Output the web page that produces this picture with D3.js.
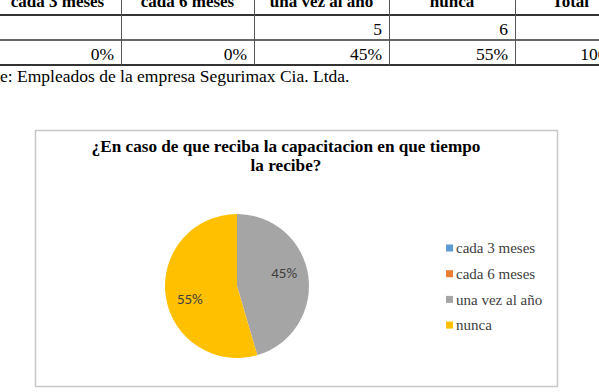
<!DOCTYPE html>
<html>
<head>
<meta charset="utf-8">
<script src="https://cdn.jsdelivr.net/npm/d3@7"></script>
<style>
  body { margin: 0; background: #fff; }
  svg { display: block; }
</style>
</head>
<body>
<div id="chart"></div>
<script>
// Data
const categories = ["cada 3 meses", "cada 6 meses", "una vez al año", "nunca"];
const counts = [0, 0, 5, 6];
const percentLabels = ["0%", "0%", "45%", "55%"];
const totalHeader = "Total";
const totalPercent = "100%";
const chartTitle = ["¿En caso de que reciba la capacitacion en que tiempo", "la recibe?"];
const sourceText = "e: Empleados de la empresa Segurimax Cia. Ltda.";
const colors = ["#5B9BD5", "#ED7D31", "#A5A5A5", "#FFC000"];

const W = 599, H = 392;
const svg = d3.select("#chart").append("svg")
    .attr("width", W)
    .attr("height", H);

// --- table fragment at the top (cut off by the page edge) ---
const colEdges = [-6, 121, 254, 389, 515, 626];
const headers = categories.concat([totalHeader]);
const countCells = counts.map(d => d === 0 ? "" : String(d)).concat([""]);
const pctCells = percentLabels.concat([totalPercent]);
const serif = "Liberation Serif, Times New Roman, serif";

const table = svg.append("g").attr("font-family", serif);

table.selectAll("text.hdr")
    .data(headers)
    .join("text")
    .attr("class", "hdr")
    .attr("x", (d, i) => (colEdges[i] + colEdges[i + 1]) / 2)
    .attr("y", 7)
    .attr("text-anchor", "middle")
    .attr("font-weight", "bold")
    .attr("font-size", 17)
    .attr("fill", "#000")
    .text(d => d);

[[countCells, 35], [pctCells, 60]].forEach(([row, y]) => {
    table.append("g").selectAll("text")
        .data(row)
        .join("text")
        .attr("x", (d, i) => i === 4 ? 621 : colEdges[i + 1] - 7)
        .attr("y", y)
        .attr("text-anchor", "end")
        .attr("font-size", 17.5)
        .attr("fill", "#000")
        .text(d => d);
});

[15, 40, 65].forEach((y, i) => {
    table.append("line")
        .attr("x1", 0).attr("x2", W)
        .attr("y1", y).attr("y2", y)
        .attr("stroke", "#333")
        .attr("stroke-width", i === 1 ? 1.5 : 2);
});
colEdges.slice(1, 5).forEach(x => {
    table.append("line")
        .attr("x1", x + 0.5).attr("x2", x + 0.5)
        .attr("y1", 0).attr("y2", 65)
        .attr("stroke", "#555")
        .attr("stroke-width", 1);
});

table.append("text")
    .attr("x", 0)
    .attr("y", 82)
    .attr("font-size", 17.5)
    .attr("fill", "#000")
    .text(sourceText);

// --- chart box ---
svg.append("rect")
    .attr("x", 35.5).attr("y", 130.5)
    .attr("width", 522).attr("height", 256)
    .attr("fill", "#fff")
    .attr("stroke", "#c8c8c8")
    .attr("stroke-width", 1.5);

svg.append("g").selectAll("text")
    .data(chartTitle)
    .join("text")
    .attr("x", 286)
    .attr("y", (d, i) => 152 + i * 18.5)
    .attr("text-anchor", "middle")
    .attr("font-family", serif)
    .attr("font-weight", "bold")
    .attr("font-size", 17.2)
    .attr("fill", "#000")
    .text(d => d);

// --- pie ---
const cx = 237, cy = 286, r = 72;
const pie = d3.pie().sort(null).value(d => d.value);
const arcs = pie(categories.map((c, i) => ({ name: c, value: counts[i], color: colors[i], pct: percentLabels[i] })));
const arc = d3.arc().innerRadius(0).outerRadius(r);

const pg = svg.append("g").attr("transform", `translate(${cx},${cy})`);
pg.selectAll("path")
    .data(arcs)
    .join("path")
    .attr("d", arc)
    .attr("fill", d => d.data.color);

// labels sit a little counter-clockwise of the slice middle, like the original
const labelR = r * 0.68;
const labelPos = d => {
    const a = (d.startAngle + d.endAngle) / 2 - 0.13;
    return [Math.sin(a) * labelR, -Math.cos(a) * labelR];
};
pg.selectAll("text")
    .data(arcs.filter(d => d.data.value > 0))
    .join("text")
    .attr("transform", d => `translate(${labelPos(d)})`)
    .attr("text-anchor", "middle")
    .attr("dy", "0.35em")
    .attr("font-family", "Carlito, Liberation Sans, Calibri, sans-serif")
    .attr("font-size", 15)
    .attr("fill", "#404040")
    .text(d => d.data.pct);

// --- legend ---
const legend = svg.append("g").attr("transform", "translate(446,248)");
const li = legend.selectAll("g")
    .data(categories)
    .join("g")
    .attr("transform", (d, i) => `translate(0,${i * 25.7})`);
li.append("rect")
    .attr("x", 0).attr("y", -3.5)
    .attr("width", 7).attr("height", 7)
    .attr("fill", (d, i) => colors[i]);
li.append("text")
    .attr("x", 10)
    .attr("y", 0)
    .attr("dy", "0.35em")
    .attr("font-family", serif)
    .attr("font-size", 15)
    .attr("fill", "#404040")
    .text(d => d);
</script>
</body>
</html>
